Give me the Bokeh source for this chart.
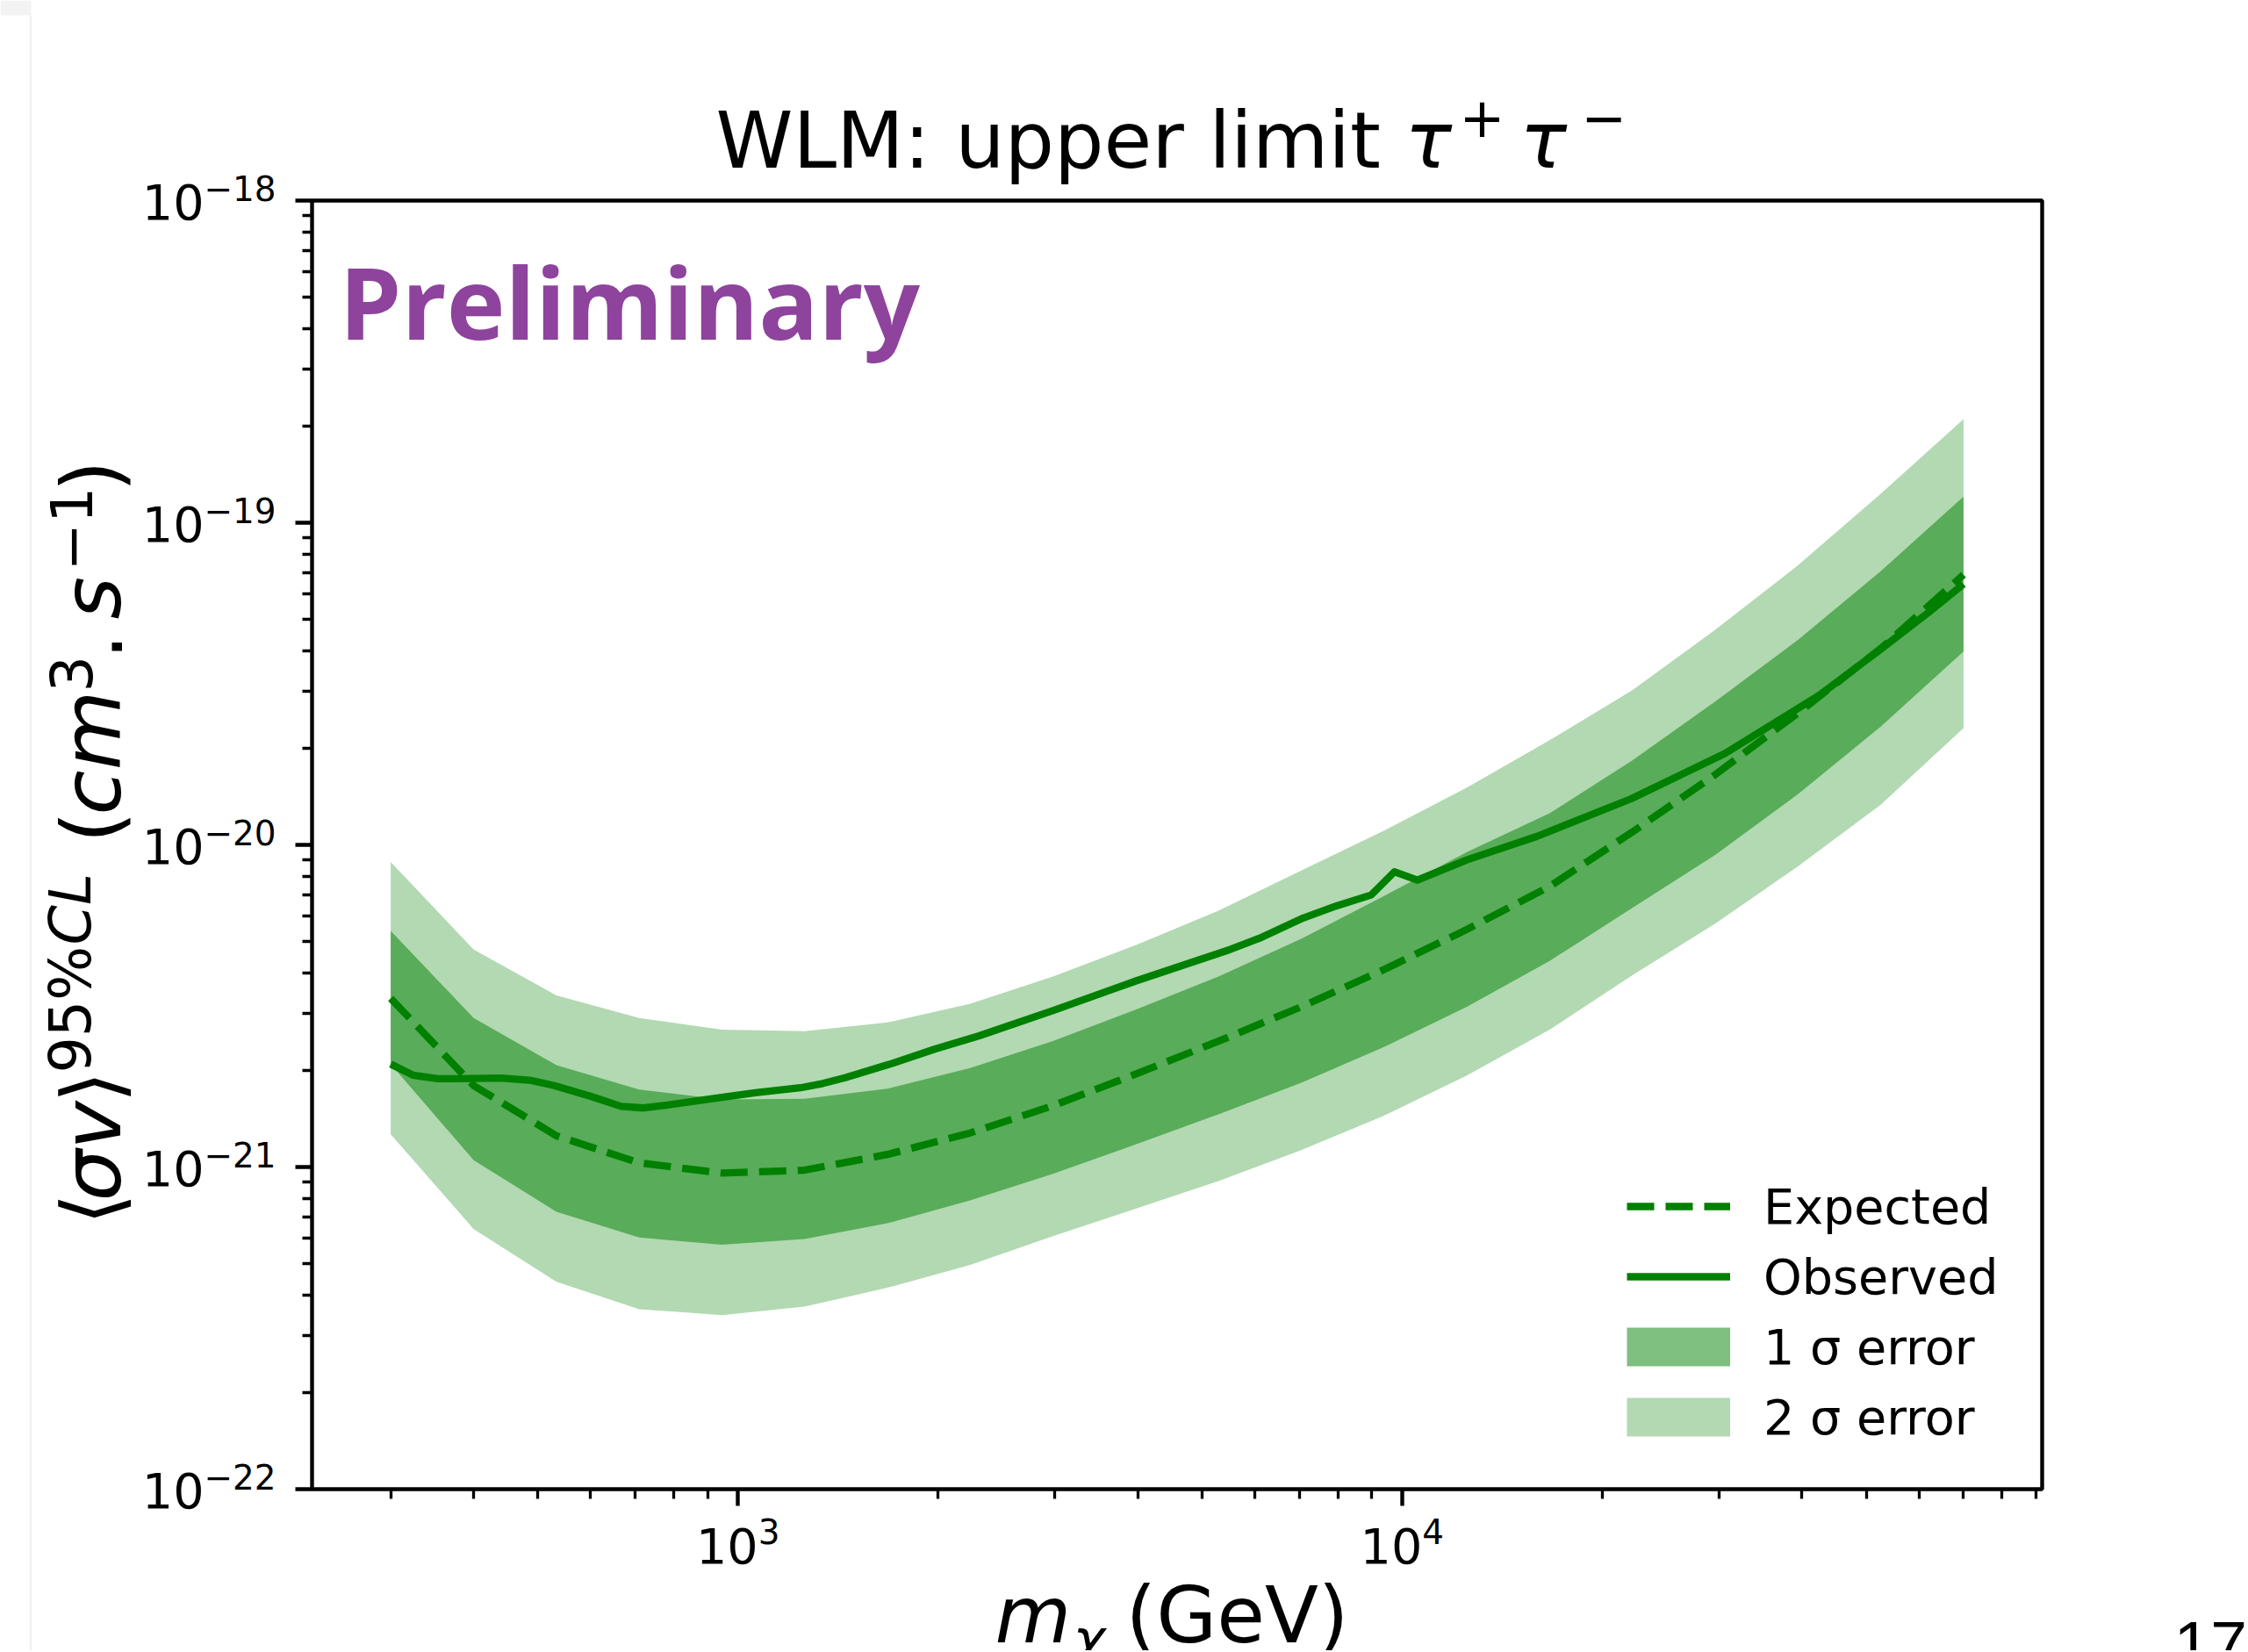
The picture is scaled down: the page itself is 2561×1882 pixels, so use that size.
import math
from bokeh.plotting import figure
from bokeh.models import (Range1d, FixedTicker, Label, Legend, LegendItem,
                          CustomJSTickFormatter, BoxAnnotation)
from bokeh.embed import file_html
from bokeh.resources import INLINE

# ---------------- data ----------------
mass = [300, 400, 533, 710, 946, 1260, 1679, 2237, 2980, 3970, 5290, 7049,
        9392, 12514, 16674, 22217, 29602, 39442, 52553, 70024]
two_sigma_hi = [8.85e-21, 4.73e-21, 3.41e-21, 2.90e-21, 2.67e-21, 2.64e-21, 2.81e-21,
                3.21e-21, 3.90e-21, 4.88e-21, 6.25e-21, 8.32e-21, 1.108e-20, 1.506e-20,
                2.112e-20, 3.022e-20, 4.648e-20, 7.371e-20, 1.230e-19, 2.096e-19]
one_sigma_hi = [5.41e-21, 2.90e-21, 2.07e-21, 1.74e-21, 1.62e-21, 1.63e-21, 1.75e-21,
                2.03e-21, 2.46e-21, 3.08e-21, 3.90e-21, 5.11e-21, 6.94e-21, 9.50e-21,
                1.253e-20, 1.830e-20, 2.784e-20, 4.326e-20, 7.074e-20, 1.205e-19]
expected = [3.34e-21, 1.79e-21, 1.25e-21, 1.03e-21, 9.58e-22, 9.78e-22, 1.094e-21,
            1.276e-21, 1.55e-21, 1.942e-21, 2.458e-21, 3.143e-21, 4.102e-21, 5.463e-21,
            7.43e-21, 1.0965e-20, 1.652e-20, 2.566e-20, 4.068e-20, 6.895e-20]
one_sigma_lo = [2.086e-21, 1.05e-21, 7.26e-22, 6.04e-22, 5.74e-22, 5.98e-22, 6.69e-22,
                7.88e-22, 9.52e-22, 1.176e-21, 1.458e-21, 1.826e-21, 2.359e-21, 3.143e-21,
                4.362e-21, 6.374e-21, 9.309e-21, 1.437e-20, 2.328e-20, 3.985e-20]
two_sigma_lo = [1.263e-21, 6.42e-22, 4.40e-22, 3.62e-22, 3.47e-22, 3.69e-22, 4.22e-22,
                4.97e-22, 6.10e-22, 7.42e-22, 9.05e-22, 1.129e-21, 1.443e-21, 1.922e-21,
                2.668e-21, 3.938e-21, 5.690e-21, 8.578e-21, 1.332e-20, 2.304e-20]

obs_mass = [300, 324, 353, 382, 439, 489, 529, 599, 667, 721, 779, 910, 1062, 1242,
            1342, 1450, 1693, 1977, 2308, 2998, 3983, 5507, 6095, 7096, 7935, 8981,
            9737, 10541, 12514, 15967, 22121, 30647, 42459, 52761, 62079, 70024]
observed = [2.086e-21, 1.929e-21, 1.879e-21, 1.879e-21, 1.889e-21, 1.856e-21, 1.789e-21,
            1.659e-21, 1.543e-21, 1.525e-21, 1.555e-21, 1.628e-21, 1.700e-21, 1.762e-21,
            1.817e-21, 1.893e-21, 2.086e-21, 2.321e-21, 2.555e-21, 3.073e-21, 3.787e-21,
            4.734e-21, 5.129e-21, 5.929e-21, 6.449e-21, 6.987e-21, 8.249e-21, 7.772e-21,
            8.981e-21, 1.063e-20, 1.390e-20, 1.924e-20, 2.913e-20, 4.073e-20, 5.273e-20,
            6.451e-20]

x_major = [1e3, 1e4]
x_major_exp = ["3", "4"]
y_major = [1e-22, 1e-21, 1e-20, 1e-19, 1e-18]
y_major_exp = ["\u221222", "\u221221", "\u221220", "\u221219", "\u221218"]
legend_labels = ["Expected", "Observed", "1 \u03c3 error", "2 \u03c3 error"]

# ---------------- ranges (matplotlib-like 5% log margins) ----------------
lo, hi = math.log10(min(mass)), math.log10(max(mass))
pad = 0.05 * (hi - lo)
xlo, xhi = 10 ** (lo - pad), 10 ** (hi + pad)
ylo, yhi = 1e-22, 1e-18

x_minor = [m * 10.0 ** k for k in (2, 3, 4) for m in range(2, 10) if xlo < m * 10.0 ** k < xhi]
y_minor = [m * 10.0 ** k for k in (-22, -21, -20, -19) for m in range(2, 10)]

GREEN = "#008000"
FONT = "DejaVu Sans"
NAN = float("nan")

W, H = 2560, 1880
FL, FR, FT, FB = 355, 2326, 228, 1696   # frame edges on the page
PIN = {"position": "absolute", "left": "0px", "top": "0px"}

p = figure(width=W, height=H, x_axis_type="log", y_axis_type="log",
           x_range=Range1d(xlo, xhi), y_range=Range1d(ylo, yhi),
           output_backend="svg", toolbar_location=None, title=None,
           min_border_left=FL, min_border_right=W - FR, min_border_top=FT,
           min_border_bottom=H - FB, styles=PIN)
p.background_fill_color = "white"
p.border_fill_color = "white"
p.grid.visible = False
p.outline_line_color = "black"
p.outline_line_width = 4.4

p.xaxis.ticker = FixedTicker(ticks=x_major, minor_ticks=x_minor)
p.yaxis.ticker = FixedTicker(ticks=y_major, minor_ticks=y_minor)
for ax in (p.xaxis[0], p.yaxis[0]):
    ax.axis_line_color = None
    ax.major_tick_line_width = 4.4
    ax.major_tick_out = 19
    ax.major_tick_in = 0
    ax.minor_tick_line_width = 3.3
    ax.minor_tick_out = 11
    ax.minor_tick_in = 0
    ax.formatter = CustomJSTickFormatter(code="return ''")

# ---------------- bands and lines ----------------
p.varea(x=mass, y1=two_sigma_lo, y2=two_sigma_hi, fill_color=GREEN, fill_alpha=0.3)
p.varea(x=mass, y1=one_sigma_lo, y2=one_sigma_hi, fill_color=GREEN, fill_alpha=0.5)
r_exp = p.line(mass, expected, line_color=GREEN, line_width=8.3, line_dash="31 13",
               line_join="round")
r_obs = p.line(obs_mass, observed, line_color=GREEN, line_width=8.3, line_join="round")
# legend proxies for the bands
r_p1 = p.line(x=[mass[0]], y=[NAN], line_color=GREEN, line_alpha=0.5, line_width=44)
r_p2 = p.line(x=[mass[0]], y=[NAN], line_color=GREEN, line_alpha=0.3, line_width=44)

legend = Legend(items=[LegendItem(label=legend_labels[0], renderers=[r_exp]),
                       LegendItem(label=legend_labels[1], renderers=[r_obs]),
                       LegendItem(label=legend_labels[2], renderers=[r_p1]),
                       LegendItem(label=legend_labels[3], renderers=[r_p2])],
                location=(1498, 42), glyph_width=118, glyph_height=80, label_height=80,
                spacing=0, padding=0, margin=0, label_standoff=38,
                label_text_font=FONT, label_text_font_size="55.6px",
                label_text_color="black",
                border_line_color=None, background_fill_alpha=0)
p.add_layout(legend)

# Preliminary stamp (inside the frame)
p.add_layout(Label(x=xlo, y=ylo, x_units="data", y_units="data", x_offset=31,
                   y_offset=FB - (386 - 0.388 * 113), text="Preliminary",
                   text_font="Open Sans", text_font_size="113px", text_font_style="bold",
                   text_color="#8E439D", text_baseline="alphabetic"))

# ---------------- transparent overlay (same page spot) for texts outside the frame ----------
q = figure(width=W, height=H, x_range=Range1d(0, W), y_range=Range1d(H, 0),
           output_backend="svg", toolbar_location=None, title=None,
           x_axis_location=None, y_axis_location=None,
           min_border=0, min_border_left=0, min_border_right=0, min_border_top=0,
           min_border_bottom=0, styles=PIN)
q.background_fill_color = None
q.border_fill_color = None
q.outline_line_color = None
q.grid.visible = False

# Bokeh centres the font box on the anchor: shift so the baseline lands where wanted
K = {"DejaVu Sans": 0.346, "Liberation Sans": 0.3465}


def px_x(v):
    return FL + (math.log10(v) - math.log10(xlo)) / (math.log10(xhi) - math.log10(xlo)) * (FR - FL)


def px_y(v):
    return FB - (math.log10(v) - math.log10(ylo)) / (math.log10(yhi) - math.log10(ylo)) * (FB - FT)


def txt(text, x, base, size, align="left", style="normal", font=FONT, color="black",
        rotated=False):
    k = K.get(font, 0.346) * size
    if rotated:   # base is the baseline column (page x), x is the start along the page y
        q.add_layout(Label(x=base - k, y=x, x_units="data", y_units="data", text=text,
                           text_font=font, text_font_size=f"{size}px",
                           text_font_style=style, text_align=align,
                           text_baseline="alphabetic", angle=math.pi / 2,
                           text_color=color))
    else:
        q.add_layout(Label(x=x, y=base - k, x_units="data", y_units="data", text=text,
                           text_font=font, text_font_size=f"{size}px",
                           text_font_style=style, text_align=align,
                           text_baseline="alphabetic", text_color=color))


# tick labels
for t, e in zip(y_major, y_major_exp):
    ty = px_y(t)
    txt("10", 232, ty + 20.4, 55.6, align="right")
    txt(e, 232, ty - 1, 38.9)
for t, e in zip(x_major, x_major_exp):
    tx = px_x(t)
    txt("10", tx + 23, 1780, 55.6, align="right")
    txt(e, tx + 23, 1757, 38.9)

# title
txt("WLM: upper limit", 815, 190, 89)
txt("\u03c4", 1600, 190, 89, style="italic")
txt("+", 1662, 154, 62)
txt("\u03c4", 1731, 190, 89, style="italic")
txt("\u2212", 1801, 154, 62)

# x label
txt("m", 1133, 1870, 89, style="italic")
txt("\u03c7", 1222, 1888, 62, style="italic")
txt("(GeV)", 1282, 1870, 89)

# y label (rotated, reading upwards)
for piece, start, col, size, sty in [("\u27e8", 1395, 137, 93, "normal"),
                                     ("\u03c3v", 1368, 137, 93, "italic"),
                                     ("\u27e9", 1256, 137, 93, "normal"),
                                     ("95%", 1222, 102, 65, "normal"),
                                     ("CL", 1076, 102, 65, "italic"),
                                     ("(", 960, 137, 93, "normal"),
                                     ("cm", 928, 137, 93, "italic"),
                                     ("3", 788, 102, 65, "normal"),
                                     (".", 751, 137, 93, "normal"),
                                     ("s", 705, 137, 93, "italic"),
                                     ("\u22121", 650, 102, 65, "normal"),
                                     (")", 560, 137, 93, "normal")]:
    txt(piece, start, col, size, style=sty, rotated=True)

# page number of the slide
txt("17", 2476, 1899, 75, font="Liberation Sans")

# faint slide edge on the left
q.add_layout(BoxAnnotation(left=0, right=35, top=0, bottom=17, fill_color="#f3f3f3",
                           fill_alpha=1, line_color=None))
q.add_layout(BoxAnnotation(left=33.5, right=35.7, top=17, bottom=H, fill_color="#f0f0f0",
                           fill_alpha=1, line_color=None))

open("out.html", "w").write(file_html([p, q], INLINE))
